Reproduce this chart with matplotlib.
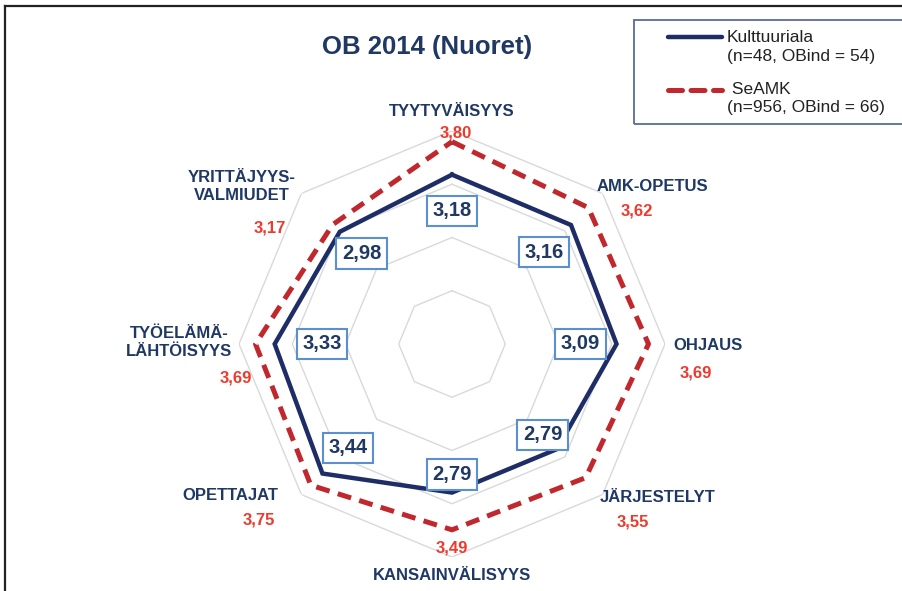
import matplotlib
matplotlib.use('Agg')
import matplotlib.pyplot as plt
import numpy as np
from matplotlib.lines import Line2D
from matplotlib.patches import Rectangle

# ---- data ----
categories = ['TYYTYVÄISYYS', 'AMK-OPETUS', 'OHJAUS', 'JÄRJESTELYT',
              'KANSAINVÄLISYYS', 'OPETTAJAT', 'TYÖELÄMÄ-\nLÄHTÖISYYS',
              'YRITTÄJYYS-\nVALMIUDET']
kulttuuriala = [3.18, 3.16, 3.09, 2.79, 2.79, 3.44, 3.33, 2.98]
seamk = [3.80, 3.62, 3.69, 3.55, 3.49, 3.75, 3.69, 3.17]
rings = [1, 2, 3, 4]
title = 'OB 2014 (Nuoret)'
legend_labels = ['Kulttuuriala\n(n=48, OBind = 54)', ' SeAMK\n(n=956, OBind = 66)']

# ---- layout ----
W, H = 903, 591
CX, CY, R = 452, 344, 213
def fx(px): return px / W
def fy(py): return 1 - py / H

NAVY = '#1f2d66'
NAVY_TXT = '#1f3864'
RED = '#c0282d'
RED_TXT = '#ee3a2c'
GRID = '#d9d9d9'
BOXEDGE = '#5b8fd0'
FONT = ['Liberation Sans Narrow', 'Liberation Sans', 'DejaVu Sans']

fig = plt.figure(figsize=(W / 100, H / 100), dpi=100)

# outer frame (top and left visible)
fig.add_artist(Line2D([fx(5), fx(5)], [fy(591), fy(6)], color='#222222', lw=1.6))
fig.add_artist(Line2D([fx(5), fx(903)], [fy(6), fy(6)], color='#222222', lw=1.6))

ax = fig.add_axes([fx(CX - R), fy(CY + R), 2 * R / W, 2 * R / H], projection='polar')
ax.set_theta_zero_location('N')
ax.set_theta_direction(-1)
ax.set_ylim(0, 4)
ax.grid(False)
ax.set_xticks([])
ax.set_yticks([])
ax.spines['polar'].set_visible(False)
ax.patch.set_alpha(0)

n = len(categories)
ang = np.arange(n) * 2 * np.pi / n
angc = np.append(ang, ang[0])

for r in rings:
    ax.plot(angc, [r] * (n + 1), color=GRID, lw=1.0, zorder=1)

ax.plot(angc, np.append(seamk, seamk[0]), color=RED, lw=3.6,
        ls=(0, (2.8, 1.7)), dash_capstyle='butt', solid_joinstyle='round', zorder=3)
ax.plot(angc, np.append(kulttuuriala, kulttuuriala[0]), color=NAVY, lw=3.2,
        solid_joinstyle='miter', zorder=4)

# blue value boxes
label_r = [2.50, 2.44, 2.41, 2.41, 2.45, 2.76, 2.44, 2.40]
for a, v, lr in zip(ang, kulttuuriala, label_r):
    ax.text(a, lr, f'{v:.2f}'.replace('.', ','), ha='center', va='center',
            fontsize=14.5, fontweight='bold', color=NAVY_TXT, family=FONT, zorder=6,
            bbox=dict(boxstyle='square,pad=0.28', fc='white', ec=BOXEDGE, lw=1.5))

# category labels
cat_pos = [(452, 112), (652, 186), (708, 346), (658, 498), (452, 575),
           (230, 496), (179, 343), (242, 187)]
for c, (px, py) in zip(categories, cat_pos):
    fig.text(fx(px), fy(py), c, ha='center', va='center', fontsize=12,
             fontweight='bold', color=NAVY_TXT, family=FONT, linespacing=1.25)

# red value labels
red_pos = [(456, 133), (637, 211), (696, 373), (633, 522), (452, 548),
           (259, 520), (236, 378), (270, 228)]
for v, (px, py) in zip(seamk, red_pos):
    fig.text(fx(px), fy(py), f'{v:.2f}'.replace('.', ','), ha='center', va='center',
             fontsize=12, fontweight='bold', color=RED_TXT, family=FONT)

# title
fig.text(fx(427), fy(47), title, ha='center', va='center', fontsize=18.5,
         fontweight='bold', color=NAVY_TXT, family=FONT)

# legend
fig.add_artist(Rectangle((fx(634), fy(124)), fx(903 - 634 + 10), (124 - 20) / H,
                         fill=False, ec='#5c6a9c', lw=1.3, transform=fig.transFigure))
fig.add_artist(Line2D([fx(668), fx(722)], [fy(37), fy(37)], color=NAVY, lw=3.2,
                      solid_capstyle='round'))
fig.add_artist(Line2D([fx(668), fx(722)], [fy(90), fy(90)], color=RED, lw=3.6,
                      ls=(0, (2.8, 1.7)), dash_capstyle='round'))
fig.text(fx(727), fy(47), legend_labels[0], ha='left', va='center', fontsize=12.5,
         color='#222222', family=['Liberation Sans', 'DejaVu Sans'], linespacing=1.25)
fig.text(fx(727), fy(99), legend_labels[1], ha='left', va='center', fontsize=12.5,
         color='#222222', family=['Liberation Sans', 'DejaVu Sans'], linespacing=1.25)

fig.savefig('out.png', dpi=100)
